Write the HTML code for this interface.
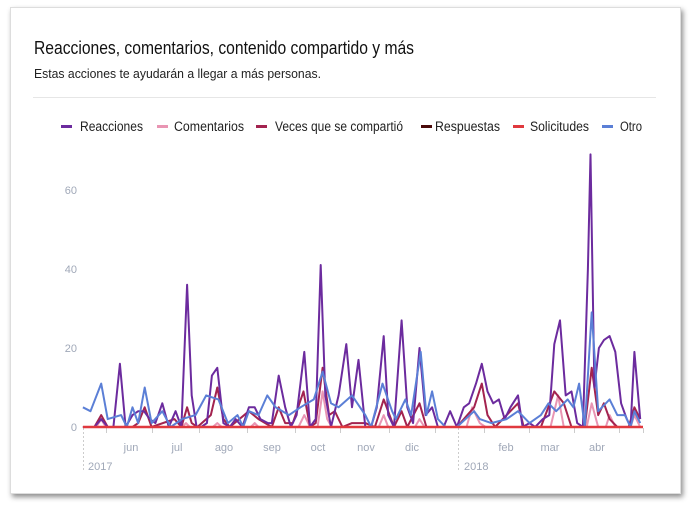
<!DOCTYPE html>
<html><head><meta charset="utf-8"><style>
html,body{margin:0;padding:0;background:#fff;}
body{width:689px;height:508px;position:relative;overflow:hidden;font-family:"Liberation Sans",sans-serif;}
.card{position:absolute;left:10px;top:7px;width:669px;height:485px;background:#fff;border:1px solid #ddd;box-shadow:2px 3px 5px rgba(0,0,0,.45);}
.hr{position:absolute;left:33px;top:97px;width:623px;height:1px;background:#e6e6e6;}
svg{position:absolute;left:0;top:0;}
</style></head><body>
<div class="card"></div>
<div class="hr"></div>
<svg width="689" height="508" id="c" font-family="Liberation Sans, sans-serif">
<text x="34" y="54" font-size="18" fill="#111" textLength="380" lengthAdjust="spacingAndGlyphs">Reacciones, comentarios, contenido compartido y más</text>
<text x="34" y="78" font-size="13" fill="#222" textLength="287" lengthAdjust="spacingAndGlyphs">Estas acciones te ayudarán a llegar a más personas.</text>
<g font-size="13.5" fill="#222">
<rect x="61" y="125" width="11" height="3" fill="#6c2b9e"/><text x="80" y="131" textLength="63" lengthAdjust="spacingAndGlyphs">Reacciones</text>
<rect x="157" y="125" width="11" height="3" fill="#e995b3"/><text x="174" y="131" textLength="70" lengthAdjust="spacingAndGlyphs">Comentarios</text>
<rect x="256" y="125" width="11" height="3" fill="#a3234f"/><text x="275" y="131" textLength="128" lengthAdjust="spacingAndGlyphs">Veces que se compartió</text>
<rect x="421" y="125" width="11" height="3" fill="#4a0a0a"/><text x="435" y="131" textLength="65" lengthAdjust="spacingAndGlyphs">Respuestas</text>
<rect x="513" y="125" width="11" height="3" fill="#e0393e"/><text x="530" y="131" textLength="59" lengthAdjust="spacingAndGlyphs">Solicitudes</text>
<rect x="602" y="125" width="11" height="3" fill="#5b7fd6"/><text x="620" y="131" textLength="22" lengthAdjust="spacingAndGlyphs">Otro</text>
</g>
<g font-size="11" fill="#a0a8b8" text-anchor="end">
<text x="77" y="194">60</text><text x="77" y="273">40</text><text x="77" y="352">20</text><text x="77" y="431">0</text>
</g>
<g font-size="11" fill="#a0a8b8" text-anchor="middle">
<text x="131" y="451">jun</text><text x="177" y="451">jul</text><text x="224" y="451">ago</text><text x="272" y="451">sep</text><text x="318" y="451">oct</text><text x="366" y="451">nov</text><text x="412" y="451">dic</text><text x="506" y="451">feb</text><text x="550" y="451">mar</text><text x="597" y="451">abr</text>
</g>
<g font-size="11" fill="#a0a8b8"><text x="88" y="470">2017</text><text x="464" y="470">2018</text></g>
<g stroke="#ccc" stroke-dasharray="2,2"><line x1="83.5" y1="428" x2="83.5" y2="470"/><line x1="458.5" y1="428" x2="458.5" y2="470"/></g>
<g id="tk" stroke="#ccc"></g>
<g id="lines" fill="none" stroke-width="2" stroke-linejoin="round"></g>
</svg>
<script>
var X=function(v){return 60+v/2.62},Y=function(v){return 427-v*3.95};
function pts(a){var s=[];for(var i=0;i<a.length;i+=2)s.push(X(a[i]).toFixed(1)+","+Y(a[i+1]).toFixed(1));return s.join(" ");}
var tk=document.getElementById('tk'),h='';
[106,152,199,247,295,340,389,435,484,529,574,619,643].forEach(function(x){h+='<line x1="'+x+'.5" y1="428" x2="'+x+'.5" y2="433"/>'});
tk.innerHTML=h;
var blue=[60,5,80,4,108,11,125,2,160,3,175,0,190,5,205,1,222,10,240,1,268,4,290,0,320,2,355,3,383,8,415,7,440,1,465,3,480,0,495,4,520,3,543,8,565,5,600,3,630,5,665,7,688,14,710,6,730,5,765,8,800,3,815,0,845,11,870,4,880,2,905,7,920,3,945,19,960,3,975,9,990,2,1010,0,1040,0,1085,4,1100,2,1130,1,1170,2,1200,4,1230,1,1260,3,1280,6,1300,4,1330,7,1345,5,1360,11,1375,0,1393,29,1410,4,1440,7,1460,3,1480,3,1495,0,1505,4,1520,1];
var purple=[60,0,90,0,108,2,125,0,140,0,157,16,172,0,190,3,205,4,220,4,235,2,250,1,268,6,285,0,303,4,318,0,333,36,345,8,358,0,370,0,385,1,398,13,412,15,428,1,445,0,460,2,478,0,495,5,510,5,525,2,545,1,555,1,573,13,590,5,605,0,620,3,640,19,655,0,670,2,683,41,695,8,710,0,730,8,750,21,765,5,782,17,800,0,815,0,830,5,848,23,860,3,875,0,895,27,910,5,925,1,942,20,958,3,975,5,990,0,1005,0,1022,4,1040,0,1058,5,1072,6,1090,11,1105,16,1120,9,1135,6,1150,7,1165,2,1180,5,1200,8,1212,0,1230,1,1245,0,1265,2,1282,3,1295,21,1310,27,1325,8,1340,9,1355,1,1370,0,1383,40,1390,69,1400,10,1412,20,1425,22,1440,23,1455,19,1470,6,1485,2,1495,0,1505,19,1520,2];
var red=[60,0,90,0,108,3,125,0,175,0,190,0,205,1,222,5,240,0,300,2,318,0,333,5,345,1,360,0,395,3,412,10,428,2,445,0,495,4,520,2,555,0,573,5,590,1,610,1,638,9,655,0,670,1,688,15,705,3,720,4,740,0,765,1,800,1,825,0,848,7,875,0,895,4,910,0,942,6,960,0,980,0,1040,0,1085,5,1105,11,1120,3,1140,0,1180,4,1200,6,1215,0,1260,0,1295,9,1320,6,1340,0,1375,0,1393,15,1410,3,1425,6,1440,2,1460,0,1490,0,1505,5,1520,2];
var pink=[60,0,95,0,108,2,120,0,320,0,330,1,340,0,400,0,412,1,424,0,500,0,510,1,520,0,625,0,640,3,655,0,675,0,688,9,700,2,712,0,835,0,848,3,860,0,930,0,942,2,955,0,1065,0,1080,5,1100,1,1115,0,1285,0,1305,8,1320,0,1380,0,1393,6,1410,0,1430,0,1440,3,1455,0,1495,0,1505,3,1520,0];
var L=document.getElementById('lines');
L.innerHTML='<polyline stroke="#e995b3" points="'+pts(pink)+'"/>'+
'<polyline stroke="#a3234f" points="'+pts(red)+'"/>'+
'<polyline stroke="#6c2b9e" points="'+pts(purple)+'"/>'+
'<polyline stroke="#5b7fd6" points="'+pts(blue)+'"/>'+
'<line x1="83" y1="427" x2="643" y2="427" stroke="#e0393e" stroke-width="2.5"/>';
</script>
</body></html>
